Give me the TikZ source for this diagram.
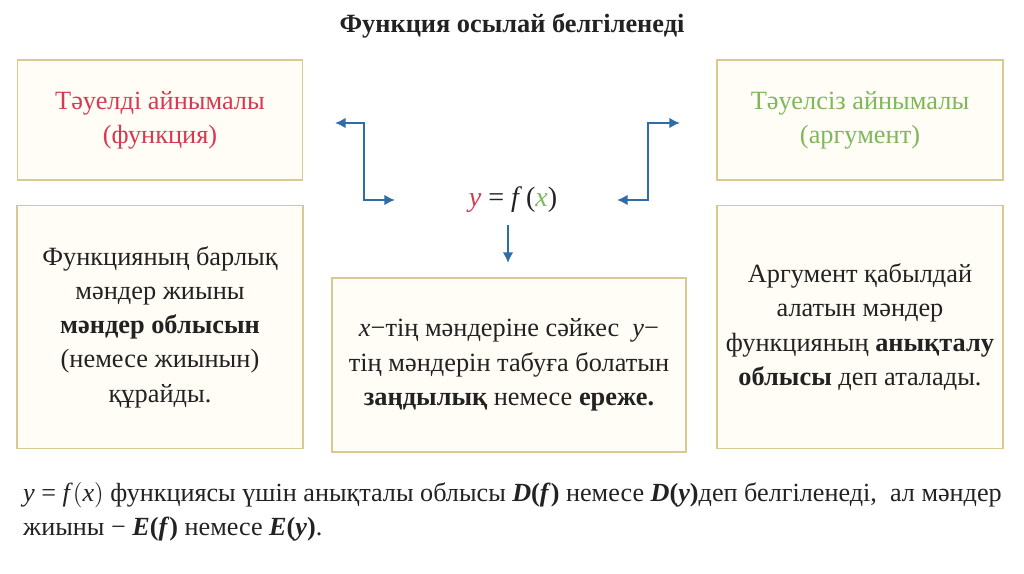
\documentclass[tikz,border=0pt]{standalone}
\usepackage{fontspec}
\setmainfont{Liberation Serif}
\usetikzlibrary{arrows.meta}
\definecolor{frame}{HTML}{D8C892}
\definecolor{paper}{HTML}{FFFDF6}
\definecolor{depred}{HTML}{D63A52}
\definecolor{argreen}{HTML}{80B65C}
\definecolor{arrowblue}{HTML}{2F6CA8}
\definecolor{ink}{HTML}{222222}
\tikzset{
  box/.style={draw=frame, fill=paper, line width=1.1pt, align=center, inner sep=0pt,
    text=ink, font=\fontsize{15}{19.5}\selectfont},
  link/.style={arrowblue, line width=1.1pt, -{Latex[length=6pt,width=6pt]}},
  bilink/.style={link, {Latex[length=6pt,width=6pt]}-{Latex[length=6pt,width=6pt]}},
}

\begin{document}
\begin{tikzpicture}[x=0.02cm, y=-0.02cm]
  \fill[white] (0,0) rectangle (1024,574);
  \useasboundingbox (0,0) rectangle (1024,574);
  \node[font=\fontsize{15}{18}\selectfont\bfseries, text=ink] (title) at (512,26) {Функция осылай белгіленеді};
  % top row
  \node[box, minimum width=5.7cm, minimum height=2.4cm, text=depred] (dep) at (160,120)
    {Тәуелді айнымалы\\(функция)};
  \node[box, minimum width=5.72cm, minimum height=2.4cm, text=argreen] (arg) at (860,120)
    {Тәуелсіз айнымалы\\(аргумент)};
  \node[font=\fontsize{16}{19}\selectfont, text=ink] (fx) at (513,200)
    {{\itshape\color{depred}y} = {\itshape f} ({\itshape\color{argreen}x})};
  % bottom row
  \node[box, minimum width=5.72cm, minimum height=4.86cm] (range) at (160,327)
    {Функцияның барлық\\мәндер жиыны\\\textbf{мәндер облысын}\\(немесе жиынын)\\құрайды.};
  \node[box, minimum width=7.08cm, minimum height=3.48cm] (rule) at (509,365)
    {\textit{x}−тің мәндеріне сәйкес\ \ \textit{y}−\\тің мәндерін табуға болатын\\\textbf{заңдылық} немесе \textbf{ереже.}};
  \node[box, minimum width=5.72cm, minimum height=4.86cm] (domain) at (860,327)
    {Аргумент қабылдай\\алатын мәндер\\функцияның \textbf{анықталу}\\\textbf{облысы} деп аталады.};
  % arrows
  \coordinate (la) at (335,123);
  \coordinate (lb) at (395,200);
  \coordinate (ra) at (680,123);
  \coordinate (rb) at (617,200);
  \coordinate (da) at (508,225);
  \coordinate (db) at (508,263);
  \draw[bilink] (la) -- ++(29,0) |- (lb);
  \draw[bilink] (ra) -- ++(-32,0) |- (rb);
  \draw[link] (da) -- (db);
  % note under the boxes
  \node[anchor=west, align=left, text=ink, font=\fontsize{14.9}{19}\selectfont] (note) at (17,512)
    {\textit{y} = \textit{f}\big(\textit{x}\big) функциясы үшін анықталы облысы \textbf{\textit{D}(\textit{f})} немесе \textbf{\textit{D}(\textit{y})}деп белгіленеді,\ \ ал мәндер\\
     жиыны −\ \textbf{\textit{E}(\textit{f})} немесе \textbf{\textit{E}(\textit{y})}.};
\end{tikzpicture}
\end{document}
